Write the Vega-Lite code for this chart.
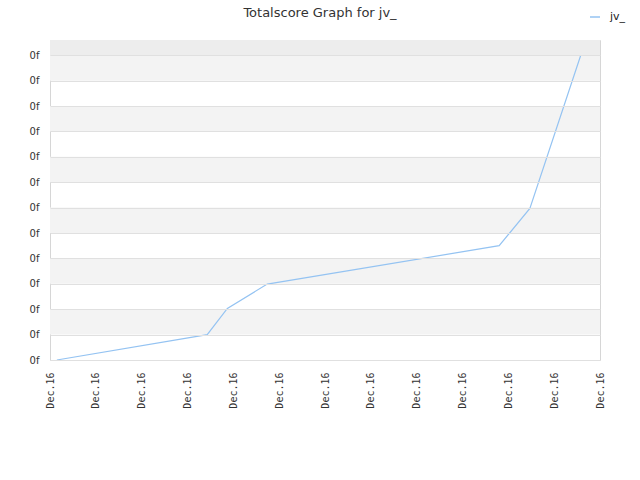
{
  "$schema": "https://vega.github.io/schema/vega-lite/v6.json",
  "width": 550,
  "height": 320,
  "autosize": {"type": "none"},
  "padding": {"left": 50, "top": 40, "right": 40, "bottom": 120},
  "background": "white",
  "title": {
    "text": "Totalscore Graph for jv_",
    "font": "DejaVu Sans",
    "fontSize": 13,
    "fontWeight": "normal",
    "color": "#333333",
    "anchor": "middle",
    "dx": -5,
    "offset": -9
  },
  "config": {"view": {"stroke": "#d6d6d6", "strokeWidth": 1}},
  "datasets": {
    "bands": [
      {"lo": 1, "hi": 2},
      {"lo": 3, "hi": 4},
      {"lo": 5, "hi": 6},
      {"lo": 7, "hi": 8},
      {"lo": 9, "hi": 10},
      {"lo": 11, "hi": 12}
    ],
    "topband": [{"lo": 12, "hi": 12.6}],
    "score": [
      {"t": 0.15, "score": 0, "user": "jv_"},
      {"t": 3.43, "score": 1.0, "user": "jv_"},
      {"t": 3.87, "score": 2.03, "user": "jv_"},
      {"t": 4.74, "score": 2.99, "user": "jv_"},
      {"t": 9.8, "score": 4.5, "user": "jv_"},
      {"t": 10.47, "score": 5.97, "user": "jv_"},
      {"t": 11.58, "score": 12.0, "user": "jv_"}
    ]
  },
  "layer": [
    {
      "data": {"name": "bands"},
      "mark": {"type": "rect", "color": "#f3f3f3"},
      "encoding": {
        "x": {"datum": 0, "type": "quantitative"},
        "x2": {"datum": 12},
        "y": {"field": "lo", "type": "quantitative"},
        "y2": {"field": "hi"}
      }
    },
    {
      "data": {"name": "topband"},
      "mark": {"type": "rect", "color": "#ededed"},
      "encoding": {
        "x": {"datum": 0, "type": "quantitative"},
        "x2": {"datum": 12},
        "y": {"field": "lo", "type": "quantitative"},
        "y2": {"field": "hi"}
      }
    },
    {
      "data": {"name": "score"},
      "mark": {"type": "line", "strokeWidth": 1.2, "interpolate": "linear"},
      "encoding": {
        "x": {
          "field": "t",
          "type": "quantitative",
          "scale": {"domain": [0, 12], "nice": false, "zero": false},
          "axis": {
            "title": null,
            "values": [0, 1, 2, 3, 4, 5, 6, 7, 8, 9, 10, 11, 12],
            "tickCount": 20,
            "labelExpr": "'Dec.16'",
            "labelAngle": 270,
            "labelFont": "DejaVu Sans Mono",
            "labelFontSize": 10,
            "labelColor": "#333333",
            "labelPadding": 12,
            "labelOverlap": false,
            "labelFlush": false,
            "grid": false,
            "ticks": false,
            "domain": false
          }
        },
        "y": {
          "field": "score",
          "type": "quantitative",
          "scale": {"domain": [0, 12.6], "nice": false, "zero": false},
          "axis": {
            "title": null,
            "values": [0, 1, 2, 3, 4, 5, 6, 7, 8, 9, 10, 11, 12],
            "tickCount": 20,
            "labelExpr": "'0f'",
            "labelFont": "DejaVu Sans",
            "labelFontSize": 10,
            "labelColor": "#333333",
            "labelPadding": 11,
            "labelOverlap": false,
            "labelFlush": false,
            "grid": true,
            "gridColor": "#e0e0e0",
            "gridWidth": 1,
            "ticks": false,
            "domain": false,
            "zindex": 1
          }
        },
        "color": {
          "field": "user",
          "type": "nominal",
          "scale": {"domain": ["jv_"], "range": ["#94c3f2"]},
          "legend": {
            "title": null,
            "orient": "none",
            "legendX": 539,
            "legendY": -29,
            "symbolType": "stroke",
            "symbolSize": 100,
            "symbolStrokeWidth": 1.5,
            "labelOffset": 9,
            "labelFont": "DejaVu Sans",
            "labelFontSize": 11,
            "labelColor": "#222222"
          }
        }
      }
    }
  ]
}
